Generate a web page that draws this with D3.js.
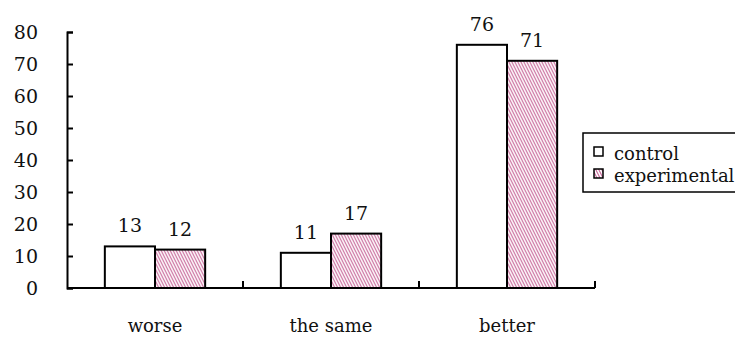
<!DOCTYPE html>
<html>
<head>
<meta charset="utf-8">
<script src="https://cdn.jsdelivr.net/npm/d3@7"></script>
<style>
  html, body { margin: 0; padding: 0; background: #fff; }
  svg { display: block; }
  svg text { font-family: "DejaVu Serif", serif; font-size: 19px; fill: #111; }
  svg text.cat, svg text.leg { font-size: 18px; }
</style>
</head>
<body>
<svg id="chart" width="735" height="338"></svg>
<script>
// Outcome categories and the two groups compared
const categories = ["worse", "the same", "better"];
const seriesNames = ["control", "experimental"];
const controlValues = [13, 11, 76];
const experimentalValues = [12, 17, 71];
const yTicks = [0, 10, 20, 30, 40, 50, 60, 70, 80];

const svg = d3.select("#chart");

// Hatched fill for the experimental group
const defs = svg.append("defs");
const pat = defs.append("pattern")
  .attr("id", "hatch")
  .attr("patternUnits", "userSpaceOnUse")
  .attr("width", 3).attr("height", 6);
pat.append("rect").attr("width", 3).attr("height", 6).attr("fill", "#fff");
pat.append("path")
  .attr("d", "M-1.5,-3 L4.5,9 M-4.5,-3 L1.5,9 M1.5,-3 L7.5,9")
  .attr("stroke", "#c9689a").attr("stroke-width", 1.1);

const x0 = d3.scaleBand().domain(categories).range([67, 595])
  .paddingInner(0.43).paddingOuter(0.215);
const x1 = d3.scaleBand().domain(seriesNames).range([0, x0.bandwidth()]);
const y = d3.scaleLinear().domain([0, 80]).range([288, 32]);

const rows = categories.map((c, i) => ({
  cat: c,
  vals: [
    { s: "control", v: controlValues[i] },
    { s: "experimental", v: experimentalValues[i] }
  ]
}));

// Bars
const groups = svg.append("g").selectAll("g").data(rows).join("g")
  .attr("transform", d => `translate(${x0(d.cat)},0)`);
groups.selectAll("rect").data(d => d.vals).join("rect")
  .attr("x", d => x1(d.s))
  .attr("y", d => y(d.v))
  .attr("width", x1.bandwidth())
  .attr("height", d => y(0) - y(d.v))
  .attr("fill", d => d.s === "control" ? "#fff" : "url(#hatch)")
  .attr("stroke", "#000").attr("stroke-width", 2);

// Value labels
groups.selectAll("text").data(d => d.vals).join("text")
  .attr("x", d => x1(d.s) + x1.bandwidth() / 2)
  .attr("y", d => y(d.v) - 14)
  .attr("text-anchor", "middle")
  .text(d => d.v);

// Y axis: ticks point into the plot
const yAxis = svg.append("g").attr("transform", "translate(67,0)")
  .call(d3.axisRight(y).tickValues(yTicks).tickSize(6).tickSizeOuter(6).tickFormat(""));
yAxis.select(".domain").attr("stroke", "#000").attr("stroke-width", 2);
yAxis.selectAll(".tick line").attr("stroke", "#000").attr("stroke-width", 2);
svg.append("g").selectAll("text").data(yTicks).join("text")
  .attr("x", 38).attr("y", d => y(d))
  .attr("dy", "0.36em")
  .attr("text-anchor", "end")
  .text(d => d);

// X axis with boundary ticks between categories
const xAxisLine = svg.append("g");
xAxisLine.append("line")
  .attr("x1", 67).attr("x2", 595)
  .attr("y1", y(0)).attr("y2", y(0))
  .attr("stroke", "#000").attr("stroke-width", 2);
const boundaries = categories.map(c => x0(c) - x0.step() * x0.paddingInner() / 2 + x0.step());
xAxisLine.selectAll("line.b").data(boundaries).join("line")
  .attr("class", "b")
  .attr("x1", d => d).attr("x2", d => d)
  .attr("y1", y(0)).attr("y2", y(0) - 7)
  .attr("stroke", "#000").attr("stroke-width", 2);
svg.append("g").selectAll("text").data(categories).join("text")
  .attr("class", "cat")
  .attr("x", d => x0(d) + x0.bandwidth() / 2)
  .attr("y", 332)
  .attr("text-anchor", "middle")
  .text(d => d);

// Legend
const legend = svg.append("g");
legend.append("rect")
  .attr("x", 583).attr("y", 133).attr("width", 170).attr("height", 59)
  .attr("fill", "#fff").attr("stroke", "#000").attr("stroke-width", 1.5);
const li = legend.selectAll("g").data(seriesNames).join("g")
  .attr("transform", (d, i) => `translate(0,${i * 22})`);
li.append("rect")
  .attr("x", 594).attr("y", 147).attr("width", 9).attr("height", 9)
  .attr("fill", d => d === "control" ? "#fff" : "url(#hatch)")
  .attr("stroke", "#000").attr("stroke-width", 1.5);
li.append("text")
  .attr("class", "leg")
  .attr("x", 614).attr("y", 160)
  .text(d => d);
</script>
</body>
</html>
